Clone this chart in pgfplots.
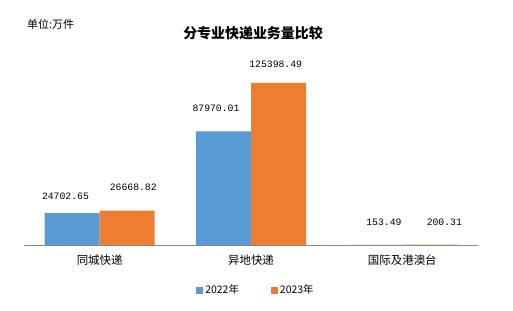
\documentclass[border=0pt]{standalone}
\usepackage{pgfplots}
\pgfplotsset{compat=1.18}
\usepackage{pgfplotstable}
\usepackage{fontspec}
\setmainfont{Noto Sans CJK SC}
\newfontfamily\numfont{Liberation Mono}
\definecolor{cblue}{HTML}{5B9BD5}
\definecolor{corange}{HTML}{ED7D31}
\definecolor{axgray}{HTML}{898989}
\pgfplotstableread{
x y dx dy label
0 24702.65 -6.7 16.4 24702.65
1 87970.01 -7.5 23 87970.01
2 153.49 9.1 22.5 153.49
}\tableA
\pgfplotstableread{
x y dx dy label
0 26668.82 6.1 23.2 26668.82
1 125398.49 -2.8 19 125398.49
2 200.31 14.5 22.5 200.31
}\tableB
\begin{document}
\begin{tikzpicture}
\path[use as bounding box] (-24bp,-66bp) rectangle (489bp,245bp);
\begin{axis}[at={(0,0)}, anchor=south west, scale only axis,
  width=454bp, height=181bp,
  xmin=-0.5, xmax=2.5, ymin=0, ymax=140000,
  ybar=0pt, bar width=55bp,
  axis y line=none, axis x line*=bottom,
  x axis line style={axgray, line width=0.8pt, -},
  xtick={0,1,2}, xticklabels={同城快递,异地快递,国际及港澳台},
  major tick length=0pt,
  xticklabel style={font=\fontsize{11.5}{12}\selectfont, yshift=-6bp},
  point meta=explicit symbolic, nodes near coords,
  visualization depends on={\thisrow{dx} \as \ldx},
  visualization depends on={\thisrow{dy} \as \ldy},
  every node near coord/.append style={anchor=center, xshift=\ldx*1bp, yshift=\ldy*1bp, font=\numfont\fontsize{9.8}{10}\selectfont, text=black},
  legend image code/.code={\draw[#1,draw=none] (0bp,-3.5bp) rectangle (7bp,3.5bp);},
  legend style={at={(0.511,-0.249)}, anchor=center, draw=none, legend columns=2,
    font=\fontsize{10.5}{11}\selectfont,
    /tikz/every even column/.append style={column sep=30bp}},
]
\addplot[fill=cblue, draw=none] table[x=x,y=y,meta=label]{\tableA};
\addplot[fill=corange, draw=none] table[x=x,y=y,meta=label]{\tableB};
\legend{2022年,2023年}
\end{axis}
\node[font=\bfseries\fontsize{14}{14}\selectfont] at (229bp,212bp) {分专业快递业务量比较};
\node[anchor=west, inner sep=0pt, font=\fontsize{11}{11}\selectfont] at (3bp,221bp) {单位:万件};
\end{tikzpicture}
\end{document}
